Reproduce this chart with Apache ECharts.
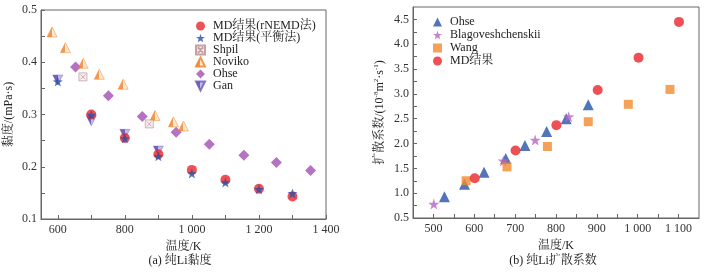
<!DOCTYPE html>
<html>
<head>
<meta charset="utf-8">
<script src="https://cdn.jsdelivr.net/npm/echarts@6/dist/echarts.min.js"></script>
<style>
  html, body { margin: 0; padding: 0; background: #fff; }
  #main { width: 723px; height: 273px; }
</style>
</head>
<body>
<div id="main"></div>
<script>
// (a) viscosity of pure Li, [T/K, mPa·s]
const mdRnemd = [[700, 0.300], [800, 0.255], [900, 0.224], [1000, 0.194], [1100, 0.175], [1200, 0.158], [1300, 0.143]];
const mdEquil = [[600, 0.363], [700, 0.299], [800, 0.254], [900, 0.220], [1000, 0.187], [1100, 0.170], [1200, 0.157], [1300, 0.149]];
const shpil = [[675, 0.372], [873, 0.282]];
const noviko = [[583, 0.458], [623, 0.428], [676, 0.398], [724, 0.377], [795, 0.358], [890, 0.298], [945, 0.286], [975, 0.278]];
const ohseVisc = [[653, 0.391], [751, 0.336], [852, 0.296], [953, 0.266], [1052, 0.243], [1155, 0.222], [1252, 0.208], [1354, 0.193]];
const gan = [[600, 0.366], [700, 0.288], [800, 0.262], [900, 0.230]];

// (b) diffusion coefficient of pure Li, [T/K, 1e-8 m²/s]
const ohseDiff = [[527, 0.93], [576, 1.18], [624, 1.42], [677, 1.70], [724, 1.96], [777, 2.24], [825, 2.50], [879, 2.78]];
const blago = [[501, 0.78], [671, 1.65], [749, 2.07], [831, 2.54]];
const wang = [[580, 1.25], [680, 1.53], [779, 1.94], [879, 2.44], [977, 2.79], [1079, 3.09]];
const mdDiff = [[601, 1.30], [701, 1.86], [801, 2.37], [902, 3.08], [1002, 3.73], [1101, 4.45]];

const visTicksX = [600, 700, 800, 900, 1000, 1100, 1200, 1300, 1400];
const visLabelsX = [600, 800, 1000, 1200, 1400];
const visTicksY = [0.1, 0.15, 0.2, 0.25, 0.3, 0.35, 0.4, 0.45, 0.5];
const visLabelsY = [0.1, 0.2, 0.3, 0.4, 0.5];
const difTicksX = [500, 550, 600, 650, 700, 750, 800, 850, 900, 950, 1000, 1050, 1100];
const difLabelsX = [500, 600, 700, 800, 900, 1000, 1100];
const difTicksY = [0.5, 0.75, 1, 1.25, 1.5, 1.75, 2, 2.25, 2.5, 2.75, 3, 3.25, 3.5, 3.75, 4, 4.25, 4.5];
const difLabelsY = [0.5, 1, 1.5, 2, 2.5, 3, 3.5, 4, 4.5];

const FONT = '"Liberation Serif", "Noto Serif CJK SC", "Noto Sans CJK SC", serif';
const AX = '#666';
const STAR = 'path://M5,0L6.2,3.6L10,3.7L7,6L8.1,9.7L5,7.5L1.9,9.7L3,6L0,3.7L3.8,3.6Z';

const thousands = v => v >= 1000 ? `${Math.floor(v / 1000)} ${String(v % 1000).padStart(3, '0')}` : String(v);
const halfFill = (a, b) => ({
  type: 'linear', x: 0, y: 0, x2: 1, y2: 0,
  colorStops: [{ offset: 0, color: a }, { offset: 0.5, color: a }, { offset: 0.5, color: b }, { offset: 1, color: b }]
});

function xAxisOf(idx, min, max, ticks, labels) {
  return {
    gridIndex: idx, type: 'value', min, max,
    name: '温度/K', nameLocation: 'middle', nameGap: 16,
    nameTextStyle: { fontFamily: FONT, fontSize: 12, color: '#222' },
    axisLine: { lineStyle: { color: AX } },
    axisTick: { inside: true, length: 4, customValues: ticks, lineStyle: { color: AX } },
    axisLabel: { customValues: labels, fontFamily: FONT, fontSize: 12, color: '#333', margin: 5, formatter: v => thousands(v) },
    splitLine: { show: false }
  };
}

function yAxisOf(idx, min, max, ticks, labels, name, gap, fmt) {
  return {
    gridIndex: idx, type: 'value', min, max,
    name, nameLocation: 'middle', nameGap: gap,
    nameTextStyle: {
      fontFamily: FONT, fontSize: 12, color: '#222',
      rich: { sup: { fontFamily: FONT, fontSize: 7, verticalAlign: 'top', color: '#222', padding: [0, 0, 6, 0] } }
    },
    axisLine: { lineStyle: { color: AX } },
    axisTick: { inside: true, length: 4, customValues: ticks, lineStyle: { color: AX } },
    axisLabel: { customValues: labels, fontFamily: FONT, fontSize: 12, color: '#333', margin: 4, formatter: fmt },
    splitLine: { show: false }
  };
}

const scatter = (name, data, idx, symbol, size, color, extra) => ({
  name, type: 'scatter', data, xAxisIndex: idx, yAxisIndex: idx,
  symbol, symbolSize: size, itemStyle: Object.assign({ color }, extra || {}), z: 3
});

const legendBase = {
  orient: 'vertical', itemWidth: 9, itemHeight: 9,
  padding: 0
};

const option = {
  animation: false,
  backgroundColor: '#fff',
  grid: [
    { left: 41, right: 397, top: 10, bottom: 54, show: true, borderColor: AX, borderWidth: 1, backgroundColor: 'transparent' },
    { left: 413, right: 24, top: 7, bottom: 55, show: true, borderColor: AX, borderWidth: 1, backgroundColor: 'transparent' }
  ],
  xAxis: [
    xAxisOf(0, 550, 1400, visTicksX, visLabelsX),
    xAxisOf(1, 450, 1150, difTicksX, difLabelsX)
  ],
  yAxis: [
    yAxisOf(0, 0.1, 0.5, visTicksY, visLabelsY, '黏度/(mPa·s)', 26, v => v.toFixed(1)),
    yAxisOf(1, 0.5, 4.75, difTicksY, difLabelsY, '扩散系数/(10{sup|-8}m{sup|2}·s{sup|-1})', 27, v => v.toFixed(1))
  ],
  legend: [
    Object.assign({}, legendBase, {
      left: 195, top: 20, itemGap: 0,
      textStyle: { fontFamily: FONT, fontSize: 12, lineHeight: 11, color: '#222', padding: [0, 0, 0, 3] },
      data: ['MD结果(rNEMD法)', 'MD结果(平衡法)', 'Shpil', 'Noviko', 'Ohse', 'Gan']
    }),
    Object.assign({}, legendBase, {
      left: 433, top: 16, itemGap: 1,
      textStyle: { fontFamily: FONT, fontSize: 12, lineHeight: 11, color: '#222', padding: [0, 0, 0, 3] },
      data: ['Ohse ', 'Blagoveshchenskii', 'Wang', 'MD结果']
    })
  ],
  graphic: [
    { type: 'text', style: { text: '(a) 纯Li黏度', font: `12px ${FONT}`, fill: '#222', x: 180, y: 255, align: 'center' } },
    { type: 'text', style: { text: '(b) 纯Li扩散系数', font: `12px ${FONT}`, fill: '#222', x: 553, y: 255, align: 'center' } }
  ],
  series: [
    scatter('Ohse', ohseVisc, 0, 'diamond', 11, '#a44fb3'),
    scatter('Noviko', noviko, 0, 'triangle', 10, halfFill('#f07f22', '#fde3c8'), { borderColor: '#f07f22', borderWidth: 0.6 }),
    scatter('Shpil', shpil, 0, 'path://M0,0L10,0L10,10L0,10Z M2,2L8,8 M8,2L2,8', 8, '#f6eaea', { borderColor: '#b88a8e', borderWidth: 0.8 }),
    scatter('Gan', gan, 0, 'path://M0,0L10,0L5,10Z', 10, halfFill('#4a3ea8', '#b7a6e0'), { borderColor: '#6a58b8', borderWidth: 0.5 }),
    scatter('MD结果(rNEMD法)', mdRnemd, 0, 'circle', 10, '#e8262a'),
    scatter('MD结果(平衡法)', mdEquil, 0, STAR, 10, '#2a4fa8'),

    scatter('Ohse ', ohseDiff, 1, 'triangle', 11, '#2553a6'),
    scatter('Blagoveshchenskii', blago, 1, STAR, 11, '#b565bf'),
    scatter('Wang', wang, 1, 'rect', 9, '#f38a2e'),
    scatter('MD结果', mdDiff, 1, 'circle', 10, '#e8262a')
  ]
};

window.addEventListener('DOMContentLoaded', () => {
  const chart = echarts.init(document.getElementById('main'), null, { renderer: 'canvas' });
  chart.setOption(option);
});
</script>
</body>
</html>
